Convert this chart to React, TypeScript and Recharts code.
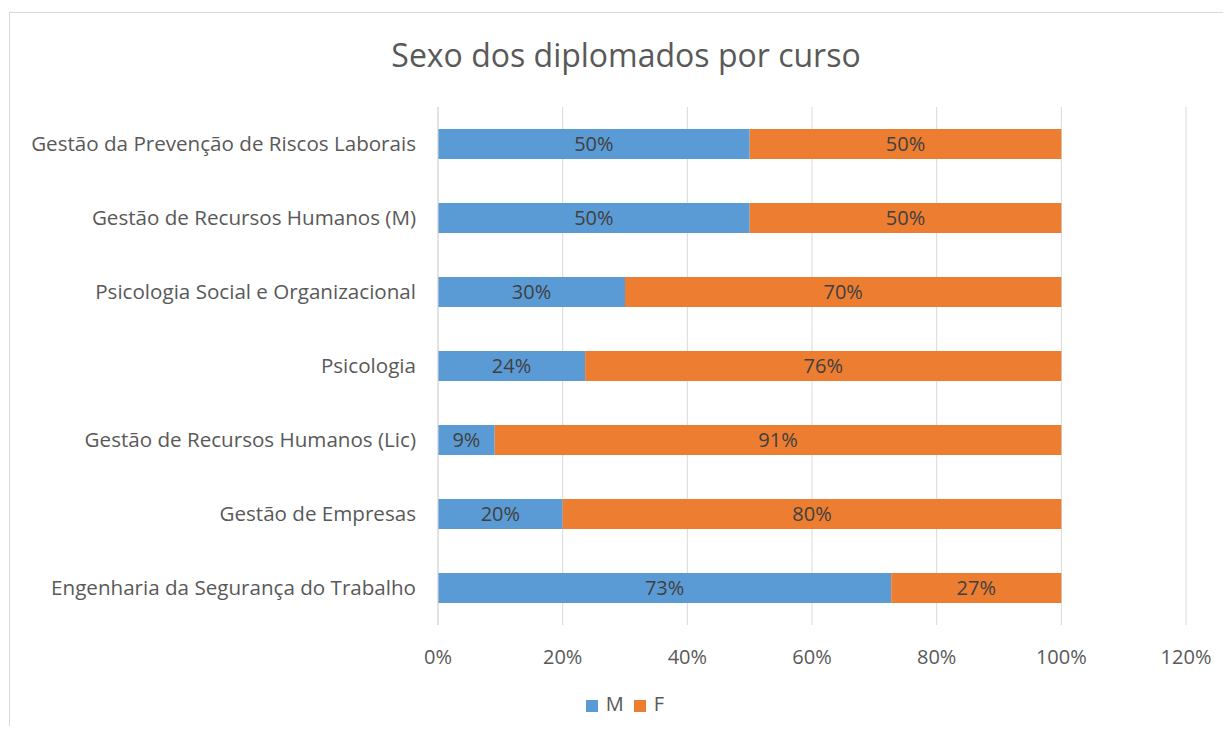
import { BarChart, Bar, XAxis, YAxis, CartesianGrid, Legend, LabelList } from 'recharts';

const cursos = [
  'Gestão da Prevenção de Riscos Laborais',
  'Gestão de Recursos Humanos (M)',
  'Psicologia Social e Organizacional',
  'Psicologia',
  'Gestão de Recursos Humanos (Lic)',
  'Gestão de Empresas',
  'Engenharia da Segurança do Trabalho',
];
const masculino = [0.5, 0.5, 0.3, 0.236, 0.091, 0.2, 0.727];
const feminino = [0.5, 0.5, 0.7, 0.764, 0.909, 0.8, 0.273];
const xTicks = [0, 0.2, 0.4, 0.6, 0.8, 1, 1.2];
const seriesOrder = ['M', 'F'];

const FONT = '"Open Sans", sans-serif';

export default function App() {
  const data = cursos.map((curso, i) => ({ curso, M: masculino[i], F: feminino[i] }));
  const pct = (v: number) => `${Math.round(v * 100)}%`;

  return (
    <div style={{ position: 'relative', margin: -8, width: 1231, height: 734, overflow: 'hidden', background: '#fff', fontFamily: FONT }}>
      {/* chart frame */}
      <div style={{ position: 'absolute', left: 9, top: 12, width: 1240, height: 740, border: '1px solid #d9d9d9' }} />
      <div style={{ position: 'absolute', left: 0, width: 1252, top: 33, textAlign: 'center', fontSize: 32, color: '#595959' }}>
        Sexo dos diplomados por curso
      </div>
      <div style={{ position: 'absolute', left: 0, top: 0 }}>
        <BarChart
          width={1231}
          height={734}
          data={data}
          layout="vertical"
          barSize={30}
          margin={{ top: 107, right: 45, left: 0, bottom: 17 }}
        >
          <CartesianGrid horizontal={false} stroke="#d9d9d9" />
          <XAxis
            type="number"
            domain={[0, 1.2]}
            ticks={xTicks}
            tickFormatter={pct}
            axisLine={false}
            tickLine={false}
            tickSize={0}
            tickMargin={25}
            height={65}
            tick={{ fill: '#595959', fontSize: 20, fontFamily: FONT }}
          />
          <YAxis
            type="category"
            dataKey="curso"
            width={438}
            axisLine={{ stroke: '#d9d9d9' }}
            tickLine={false}
            tickSize={0}
            tickMargin={22}
            tick={{ fill: '#595959', fontSize: 20.6, fontFamily: FONT }}
          />
          <Legend
            iconType="square"
            iconSize={12}
            itemSorter={(item: any) => seriesOrder.indexOf(String(item.dataKey))}
            formatter={(value: any) => <span style={{ color: '#595959', marginLeft: 4 }}>{value}</span>}
            wrapperStyle={{ fontSize: 20, fontFamily: FONT, left: 37 }}
          />
          <Bar dataKey="M" stackId="a" fill="#5B9BD5" isAnimationActive={false}>
            <LabelList dataKey="M" position="center" formatter={(v: any) => pct(Number(v))} fill="#404040" fontSize={20} fontFamily={FONT} />
          </Bar>
          <Bar dataKey="F" stackId="a" fill="#ED7D31" isAnimationActive={false}>
            <LabelList dataKey="F" position="center" formatter={(v: any) => pct(Number(v))} fill="#404040" fontSize={20} fontFamily={FONT} />
          </Bar>
        </BarChart>
      </div>
    </div>
  );
}
